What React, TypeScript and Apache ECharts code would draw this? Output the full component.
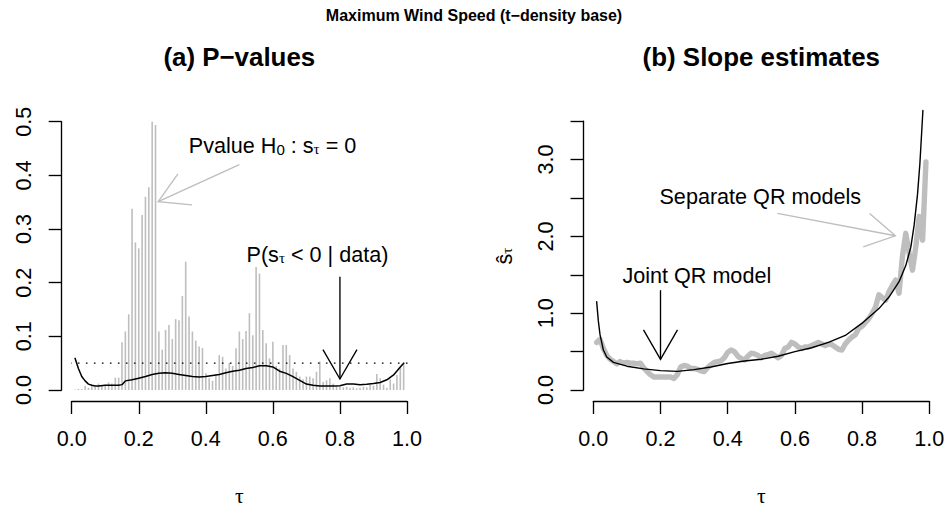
import React, { useEffect, useRef } from "react";
import * as echarts from "echarts";

// ---------------- data ----------------
const TAU = Array.from({ length: 99 }, (_, i) => Number(((i + 1) / 100).toFixed(2)));
const X_TICK_INTERVAL = 0.2;

// (a) p-values of H0: s_tau = 0, one per tau (0.01 .. 0.99)
const PVALUES = [
  0.001, 0.002, 0.002, 0.008, 0.004, 0.010, 0.006, 0.012, 0.008, 0.010,
  0.014, 0.012, 0.023, 0.023, 0.089, 0.109, 0.141, 0.338, 0.275, 0.264,
  0.326, 0.360, 0.378, 0.500, 0.494, 0.109, 0.075, 0.112, 0.121, 0.095,
  0.132, 0.130, 0.175, 0.239, 0.137, 0.109, 0.092, 0.081, 0.078, 0.031,
  0.022, 0.017, 0.030, 0.065, 0.062, 0.040, 0.050, 0.045, 0.078, 0.109,
  0.095, 0.110, 0.143, 0.102, 0.229, 0.217, 0.112, 0.087, 0.059, 0.090,
  0.045, 0.040, 0.084, 0.084, 0.065, 0.040, 0.034, 0.025, 0.020, 0.025,
  0.025, 0.022, 0.034, 0.053, 0.015, 0.018, 0.022, 0.012, 0.008, 0.006,
  0.005, 0.006, 0.004, 0.005, 0.003, 0.004, 0.006, 0.005, 0.010, 0.008,
  0.030, 0.022, 0.010, 0.004, 0.020, 0.012, 0.028, 0.043, 0.050,
];

// (a) posterior probability P(s_tau < 0 | data)
const POST_TAU = [
  0.01, 0.02, 0.03, 0.04, 0.05, 0.06, 0.07, 0.08, 0.10, 0.12, 0.14, 0.15, 0.16, 0.18,
  0.20, 0.22, 0.24, 0.26, 0.28, 0.30, 0.32, 0.34, 0.36, 0.38, 0.40, 0.42, 0.44, 0.46,
  0.48, 0.50, 0.52, 0.54, 0.56, 0.58, 0.60, 0.62, 0.64, 0.66, 0.68, 0.70, 0.72, 0.74,
  0.76, 0.78, 0.80, 0.82, 0.84, 0.86, 0.88, 0.90, 0.92, 0.94, 0.96, 0.98, 0.99,
];
const POST_PROB = [
  0.059, 0.040, 0.025, 0.017, 0.011, 0.009, 0.0075, 0.0075, 0.009, 0.009, 0.009, 0.010, 0.017, 0.019,
  0.022, 0.025, 0.029, 0.031, 0.032, 0.031, 0.029, 0.027, 0.025, 0.024, 0.025, 0.027, 0.029, 0.032,
  0.035, 0.037, 0.040, 0.042, 0.045, 0.045, 0.043, 0.035, 0.031, 0.025, 0.018, 0.011, 0.009, 0.0075,
  0.0075, 0.0075, 0.008, 0.011, 0.011, 0.010, 0.0105, 0.012, 0.014, 0.019, 0.028, 0.043, 0.050,
];
const PVAL_LEVEL = 0.05;

// (b) separate QR slope estimates, one per tau (0.01 .. 0.99)
const SEPARATE_QR = [
  0.62, 0.66, 0.54, 0.45, 0.40, 0.37, 0.34, 0.37, 0.35, 0.36,
  0.35, 0.35, 0.34, 0.35, 0.29, 0.24, 0.20, 0.17, 0.17, 0.17,
  0.17, 0.17, 0.17, 0.15, 0.20, 0.30, 0.32, 0.31, 0.28, 0.28,
  0.27, 0.25, 0.24, 0.29, 0.33, 0.36, 0.37, 0.38, 0.42, 0.49,
  0.52, 0.50, 0.44, 0.41, 0.39, 0.44, 0.48, 0.47, 0.45, 0.42,
  0.45, 0.46, 0.48, 0.45, 0.42, 0.45, 0.54, 0.56, 0.62, 0.60,
  0.56, 0.54, 0.56, 0.56, 0.58, 0.60, 0.62, 0.60, 0.58, 0.60,
  0.59, 0.56, 0.53, 0.52, 0.60, 0.65, 0.69, 0.72, 0.80, 0.83,
  0.88, 0.93, 1.00, 1.08, 1.24, 1.20, 1.17, 1.28, 1.36, 1.43,
  1.26, 1.74, 2.04, 1.78, 1.56, 1.87, 2.26, 1.95, 2.97,
];

// (b) joint QR model slope curve
const JOINT_TAU = [
  0.01, 0.015, 0.02, 0.03, 0.04, 0.06, 0.10, 0.15, 0.20, 0.25, 0.30, 0.35, 0.40, 0.45,
  0.50, 0.55, 0.60, 0.65, 0.70, 0.75, 0.80, 0.85, 0.88, 0.91, 0.93, 0.945, 0.955, 0.965,
  0.972, 0.981,
];
const JOINT_QR = [
  1.15, 0.90, 0.72, 0.52, 0.43, 0.36, 0.31, 0.275, 0.252, 0.243, 0.265, 0.30, 0.345, 0.377,
  0.40, 0.44, 0.50, 0.55, 0.62, 0.71, 0.87, 1.06, 1.21, 1.41, 1.62, 1.86, 2.15, 2.55,
  2.95, 3.64,
];

// annotation arrows [x0, y0, x1, y1] in data units
const PVAL_ARROW = [0.5, 0.42, 0.258, 0.351];
const POST_ARROW = [0.8, 0.211, 0.8, 0.0205];
const SEP_ARROW = [0.548, 2.3, 0.899, 2.008];
const JOINT_ARROW = [0.2, 1.3, 0.2, 0.4];

// annotation text anchors [x, y] (centre) in data units
const PVAL_TEXT_AT = [0.599, 0.455];
const POST_TEXT_AT = [0.733, 0.253];
const SEP_TEXT_AT = [0.497, 2.52];
const JOINT_TEXT_AT = [0.308, 1.49];

const MAIN_TITLE = "Maximum Wind Speed (t\u2212density base)";
const PANEL_TITLES = ["(a) P\u2212values", "(b) Slope estimates"];

// ---------------- style ----------------
const SANS = "'Liberation Sans', Arial, Helvetica, sans-serif";
const SERIF = "'Liberation Serif', 'Times New Roman', serif";
const BASE = 21.6;
const SUB = 15.1;
const SUB_DY = 3.3;
const GREY = "#bebebe";
const LW = 1.35;

// R's 4% axis extension of the tau range [0.01, 0.99]
const X_EXT = 0.04 * (TAU[TAU.length - 1] - TAU[0]);
const X_LO = TAU[0] - X_EXT;
const X_HI = TAU[TAU.length - 1] + X_EXT;

let _ctx: CanvasRenderingContext2D | null = null;
function textWidth(t: string, size: number, family: string, weight = "normal") {
  if (!_ctx) _ctx = document.createElement("canvas").getContext("2d");
  _ctx!.font = `${weight} ${size}px ${family}`;
  return _ctx!.measureText(t).width;
}

type Seg = { t: string; sub?: boolean; serif?: boolean };
function buildSegs(segs: Seg[], cx: number, cy: number, fill: string) {
  const items = segs.map((s) => {
    const size = s.sub ? SUB : BASE;
    const fam = s.serif ? SERIF : SANS;
    return { ...s, size, fam, w: textWidth(s.t, size, fam) };
  });
  const total = items.reduce((a, b) => a + b.w, 0);
  let x = cx - total / 2;
  return items.map((it) => {
    const el = {
      type: "text",
      x,
      y: cy + (it.sub ? SUB_DY : 0),
      silent: true,
      style: {
        text: it.t,
        fontSize: it.size,
        fontFamily: it.fam,
        fill,
        align: "left",
        verticalAlign: "middle",
        textAlign: "left",
        textVerticalAlign: "middle",
      },
    };
    x += it.w;
    return el;
  });
}

const PVAL_SEGS: Seg[] = [
  { t: "Pvalue H" },
  { t: "0", sub: true },
  { t: " : s" },
  { t: "\u03c4", sub: true, serif: true },
  { t: " = 0" },
];
const POST_SEGS: Seg[] = [
  { t: "P(s" },
  { t: "\u03c4", sub: true, serif: true },
  { t: " < 0 | data)" },
];
const SEP_SEGS: Seg[] = [{ t: "Separate QR models" }];
const JOINT_SEGS: Seg[] = [{ t: "Joint QR model" }];

function arrowSeries(idx: number, arrows: { a: number[]; color: string }[]) {
  return {
    type: "custom",
    xAxisIndex: idx,
    yAxisIndex: idx,
    silent: true,
    clip: false,
    encode: { x: [0, 2], y: [1, 3] },
    data: arrows.map((a) => a.a),
    renderItem: (params: any, api: any) => {
      const p0 = api.coord([api.value(0), api.value(1)]);
      const p1 = api.coord([api.value(2), api.value(3)]);
      const color = arrows[params.dataIndex].color;
      const ang = Math.atan2(p1[1] - p0[1], p1[0] - p0[0]);
      const L = 34;
      const A = Math.PI / 6;
      const h1 = [p1[0] - L * Math.cos(ang - A), p1[1] - L * Math.sin(ang - A)];
      const h2 = [p1[0] - L * Math.cos(ang + A), p1[1] - L * Math.sin(ang + A)];
      return {
        type: "group",
        children: [
          {
            type: "line",
            shape: { x1: p0[0], y1: p0[1], x2: p1[0], y2: p1[1] },
            style: { stroke: color, lineWidth: LW, fill: "none" },
          },
          {
            type: "polyline",
            shape: { points: [h1, p1, h2] },
            style: { stroke: color, lineWidth: LW, fill: "none" },
          },
        ],
      };
    },
  };
}

function textSeries(idx: number, texts: { at: number[]; segs: Seg[] }[]) {
  return {
    type: "custom",
    xAxisIndex: idx,
    yAxisIndex: idx,
    silent: true,
    clip: false,
    data: texts.map((t) => t.at),
    renderItem: (params: any, api: any) => {
      const p = api.coord([api.value(0), api.value(1)]);
      return {
        type: "group",
        children: buildSegs(texts[params.dataIndex].segs, p[0], p[1], "#000"),
      };
    },
  };
}

const GRIDS = [
  { left: 71.7, top: 121.7, width: 335.3, height: 268.3 },
  { left: 593.3, top: 121.2, width: 336, height: 268.8 },
];
const PANEL_CX = [239.3, 761.3];

function buildOption() {
  const axisLine = { show: true, onZero: false, lineStyle: { color: "#000", width: LW } };
  const axisTick = { show: true, length: 13, lineStyle: { color: "#000", width: LW } };
  const xAxis = [0, 1].map((i) => ({
    type: "value",
    gridIndex: i,
    min: 0,
    max: 1,
    interval: X_TICK_INTERVAL,
    offset: 11,
    axisLine,
    axisTick,
    splitLine: { show: false },
    axisLabel: {
      fontSize: BASE,
      fontFamily: SANS,
      color: "#000",
      margin: 26,
      showMinLabel: true,
      showMaxLabel: true,
      formatter: (v: number) => v.toFixed(1),
    },
  }));
  const yLabel = {
    fontSize: BASE,
    fontFamily: SANS,
    color: "#000",
    rotate: 90,
    margin: 27,
    showMinLabel: true,
    showMaxLabel: true,
  };
  const yAxis = [
    {
      type: "value",
      gridIndex: 0,
      min: 0,
      max: 0.5,
      interval: 0.1,
      offset: 10,
      axisLine,
      axisTick,
      splitLine: { show: false },
      axisLabel: { ...yLabel, formatter: (v: number) => v.toFixed(1) },
    },
    {
      type: "value",
      gridIndex: 1,
      min: 0,
      max: 3.5,
      interval: 0.5,
      offset: 9.8,
      axisLine,
      axisTick,
      splitLine: { show: false },
      axisLabel: {
        ...yLabel,
        formatter: (v: number) => (Math.abs(v - Math.round(v)) < 1e-9 ? v.toFixed(1) : ""),
      },
    },
  ];

  const series: any[] = [
    {
      type: "custom",
      xAxisIndex: 0,
      yAxisIndex: 0,
      silent: true,
      clip: false,
      data: TAU.map((t, i) => [t, PVALUES[i]]),
      renderItem: (_p: any, api: any) => {
        const a = api.coord([api.value(0), 0]);
        const b = api.coord([api.value(0), api.value(1)]);
        return {
          type: "line",
          shape: { x1: a[0], y1: a[1], x2: b[0], y2: b[1] },
          style: { stroke: GREY, lineWidth: 1.6 },
        };
      },
    },
    {
      type: "line",
      xAxisIndex: 0,
      yAxisIndex: 0,
      silent: true,
      clip: false,
      symbol: "none",
      data: [
        [X_LO, PVAL_LEVEL],
        [X_HI, PVAL_LEVEL],
      ],
      lineStyle: { color: "#000", width: 1.4, type: [1.6, 6.4] },
    },
    {
      type: "line",
      xAxisIndex: 0,
      yAxisIndex: 0,
      silent: true,
      symbol: "none",
      data: POST_TAU.map((t, i) => [t, POST_PROB[i]]),
      lineStyle: { color: "#000", width: 1.5, cap: "round", join: "round" },
    },
    arrowSeries(0, [
      { a: PVAL_ARROW, color: GREY },
      { a: POST_ARROW, color: "#000" },
    ]),
    textSeries(0, [
      { at: PVAL_TEXT_AT, segs: PVAL_SEGS },
      { at: POST_TEXT_AT, segs: POST_SEGS },
    ]),
    {
      type: "line",
      xAxisIndex: 1,
      yAxisIndex: 1,
      silent: true,
      symbol: "none",
      data: TAU.map((t, i) => [t, SEPARATE_QR[i]]),
      lineStyle: { color: GREY, width: 5.4, cap: "round", join: "round" },
    },
    {
      type: "line",
      xAxisIndex: 1,
      yAxisIndex: 1,
      silent: true,
      clip: false,
      symbol: "none",
      smooth: false,
      data: JOINT_TAU.map((t, i) => [t, JOINT_QR[i]]),
      lineStyle: { color: "#000", width: 1.4, cap: "round", join: "round" },
    },
    arrowSeries(1, [
      { a: SEP_ARROW, color: GREY },
      { a: JOINT_ARROW, color: "#000" },
    ]),
    textSeries(1, [
      { at: SEP_TEXT_AT, segs: SEP_SEGS },
      { at: JOINT_TEXT_AT, segs: JOINT_SEGS },
    ]),
  ];

  const txt = (text: string, x: number, y: number, size: number, weight: string, fam = SANS) => ({
    type: "text",
    x,
    y,
    silent: true,
    style: {
      text,
      fontSize: size,
      fontWeight: weight,
      fontFamily: fam,
      fill: "#000",
      align: "center",
      verticalAlign: "middle",
      textAlign: "center",
      textVerticalAlign: "middle",
    },
  });

  const graphic: any[] = [
    txt(MAIN_TITLE, 474, 15, 16, "bold"),
    txt(PANEL_TITLES[0], PANEL_CX[0], 57, 25.9, "bold"),
    txt(PANEL_TITLES[1], PANEL_CX[1], 57, 25.9, "bold"),
    txt("\u03c4", PANEL_CX[0], 496, BASE, "normal", SERIF),
    txt("\u03c4", PANEL_CX[1], 496, BASE, "normal", SERIF),
    {
      type: "group",
      x: 504,
      y: 256,
      rotation: Math.PI / 2,
      silent: true,
      children: buildSegs([{ t: "\u015d" }, { t: "\u03c4", sub: true, serif: true }], 0, 0, "#000"),
    },
  ];

  return {
    animation: false,
    backgroundColor: "#ffffff",
    grid: GRIDS.map((g) => ({ ...g, containLabel: false })),
    xAxis,
    yAxis,
    series,
    graphic,
  };
}

export default function App() {
  const ref = useRef<HTMLDivElement>(null);
  useEffect(() => {
    document.body.style.margin = "0";
    if (!ref.current) return;
    const chart = echarts.init(ref.current, null, { renderer: "svg" });
    chart.setOption(buildOption() as any);
    return () => chart.dispose();
  }, []);
  return <div ref={ref} style={{ width: 948, height: 515 }} />;
}
